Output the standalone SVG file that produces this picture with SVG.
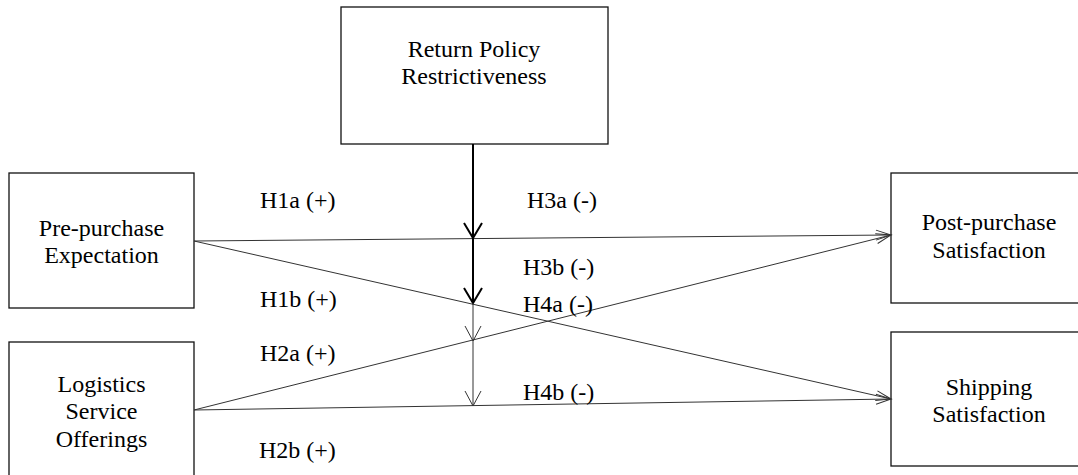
<svg xmlns="http://www.w3.org/2000/svg" width="1078" height="475" viewBox="0 0 1078 475">
<style>
.box{fill:#fff;stroke:#111;stroke-width:1.3}
.t{font-family:"Liberation Serif","Times New Roman",serif;font-size:24px;fill:#000;text-anchor:middle}
.lbl{font-family:"Liberation Serif","Times New Roman",serif;font-size:24px;fill:#000}
.c{fill:none;stroke:#333;stroke-width:1}
.thick{fill:none;stroke:#000;stroke-width:2}
</style>
<defs>
<marker id="open" markerUnits="userSpaceOnUse" viewBox="-16 -6 18 12" refX="0" refY="0" markerWidth="18" markerHeight="12" orient="auto">
<path d="M-15,-5 L0,0 L-15,5" fill="none" stroke="#333" stroke-width="1"/>
</marker>
<marker id="openV" markerUnits="userSpaceOnUse" viewBox="-17 -10 19 20" refX="0" refY="0" markerWidth="19" markerHeight="20" orient="auto">
<path d="M-15,-8 L0,0 L-15,8" fill="none" stroke="#333" stroke-width="1"/>
</marker>
<marker id="openThick" markerUnits="userSpaceOnUse" viewBox="-17 -11 20 22" refX="0" refY="0" markerWidth="20" markerHeight="22" orient="auto">
<path d="M-15,-9 L0,0 L-15,9" fill="none" stroke="#000" stroke-width="2"/>
</marker>
</defs>
<g id="n-return">
<rect class="box" x="341" y="7" width="267" height="137"/>
<text class="t" x="474" y="57">Return Policy</text>
<text class="t" x="474" y="84">Restrictiveness</text>
</g>
<g id="n-pre">
<rect class="box" x="9" y="173" width="185" height="135"/>
<text class="t" x="101.5" y="236">Pre-purchase</text>
<text class="t" x="101.5" y="263">Expectation</text>
</g>
<g id="n-log">
<rect class="box" x="9" y="342" width="185" height="150"/>
<text class="t" x="101.5" y="392">Logistics</text>
<text class="t" x="101.5" y="419">Service</text>
<text class="t" x="101.5" y="447">Offerings</text>
</g>
<g id="n-post">
<rect class="box" x="891" y="173" width="200" height="130"/>
<text class="t" x="989" y="230">Post-purchase</text>
<text class="t" x="989" y="258">Satisfaction</text>
</g>
<g id="n-ship">
<rect class="box" x="891" y="332" width="200" height="134"/>
<text class="t" x="989" y="395">Shipping</text>
<text class="t" x="989" y="422">Satisfaction</text>
</g>
<g id="connectors">
<line class="c" x1="194" y1="241" x2="891" y2="235" marker-end="url(#open)"/>
<line class="c" x1="194" y1="241" x2="891" y2="399" marker-end="url(#open)"/>
<line class="c" x1="194" y1="410" x2="891" y2="235" marker-end="url(#open)"/>
<line class="c" x1="194" y1="410" x2="891" y2="399" marker-end="url(#open)"/>
<line class="thick" x1="473" y1="144" x2="473" y2="238" marker-end="url(#openThick)"/>
<line class="thick" x1="473" y1="238" x2="473" y2="303" marker-end="url(#openThick)"/>
<line class="c" x1="473" y1="303" x2="473" y2="341" marker-end="url(#openV)"/>
<line class="c" x1="473" y1="341" x2="473" y2="406" marker-end="url(#openV)"/>
</g>
<g id="labels">
<text class="lbl" x="260" y="208">H1a (+)</text>
<text class="lbl" x="260" y="307">H1b (+)</text>
<text class="lbl" x="260" y="361">H2a (+)</text>
<text class="lbl" x="259" y="458">H2b (+)</text>
<text class="lbl" x="527" y="208">H3a (-)</text>
<text class="lbl" x="523" y="275">H3b (-)</text>
<text class="lbl" x="523" y="312">H4a (-)</text>
<text class="lbl" x="523" y="400">H4b (-)</text>
</g>
</svg>
